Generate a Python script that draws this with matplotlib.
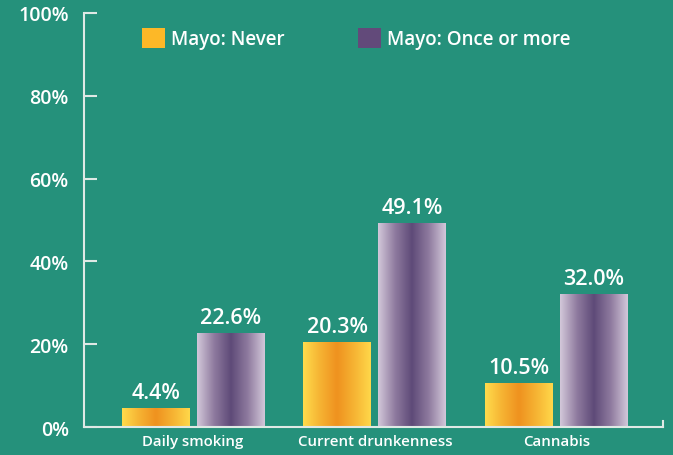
import matplotlib
matplotlib.use("Agg")
import matplotlib.pyplot as plt
import numpy as np
from matplotlib.colors import LinearSegmentedColormap
from matplotlib.patches import Patch

# Data
categories = ["Daily smoking", "Current drunkenness", "Cannabis"]
never = [4.4, 20.3, 10.5]
once_or_more = [22.6, 49.1, 32.0]
series_labels = ["Mayo: Never", "Mayo: Once or more"]
y_ticks = [0, 20, 40, 60, 80, 100]

# Styling
bg = "#25917b"
fg = "#ffffff"
axis_color = "#dfe9e5"
yellow_solid = "#fdb827"
purple_solid = "#624a7a"
yellow_cmap = LinearSegmentedColormap.from_list(
    "yel", ["#ffdc4c", "#f6b333", "#ef921f", "#f6b333", "#ffd84a"])
purple_cmap = LinearSegmentedColormap.from_list(
    "pur", ["#d3c8da", "#8f7b9f", "#5e4a78", "#8f7b9f", "#d3c8da"])

plt.rcParams["font.family"] = ["Open Sans", "DejaVu Sans"]

fig = plt.figure(figsize=(6.73, 4.56), dpi=100)
fig.patch.set_facecolor(bg)
ax = fig.add_axes([0.1248, 0.0614, 0.8603, 0.9079])
ax.set_facecolor(bg)

x = np.arange(len(categories))
width = 0.374
offset = 0.206
grad = np.linspace(0, 1, 256).reshape(1, -1)


def gradient_bars(xs, vals, cmap):
    for xc, v in zip(xs, vals):
        ax.imshow(grad, cmap=cmap, aspect="auto", interpolation="bicubic",
                  extent=[xc - width / 2, xc + width / 2, 0, v], zorder=2)
        ax.text(xc, v + 1.4, f"{v:.1f}%", ha="center", va="bottom",
                color=fg, fontsize=15.5, fontweight="semibold", zorder=3)


gradient_bars(x - offset, never, yellow_cmap)
gradient_bars(x + offset, once_or_more, purple_cmap)

ax.set_xlim(-0.6, 2.585)
ax.set_ylim(0, 100)

# Axes
ax.spines["top"].set_visible(False)
for s in ["left", "bottom", "right"]:
    ax.spines[s].set_color(axis_color)
    ax.spines[s].set_linewidth(1.5)
ax.spines["right"].set_bounds(0, 1.5)

ax.set_yticks(y_ticks)
ax.set_yticklabels([f"{t}%" for t in y_ticks])
ax.tick_params(axis="y", direction="in", length=9, width=1.5, color=axis_color,
               labelcolor=fg, labelsize=14, pad=11)
ax.set_xticks(x)
ax.set_xticklabels(categories)
ax.tick_params(axis="x", length=0, labelcolor=fg, labelsize=10.8, pad=5)
for lbl in ax.get_xticklabels() + ax.get_yticklabels():
    lbl.set_fontweight("semibold")

handles = [Patch(facecolor=yellow_solid, label=series_labels[0]),
           Patch(facecolor=purple_solid, label=series_labels[1])]
leg = ax.legend(handles=handles, ncol=2, loc="upper left",
                bbox_to_anchor=(0.071, 1.005), frameon=False,
                handlelength=1.23, handleheight=1.3, handletextpad=0.32,
                columnspacing=3.9, fontsize=13.5)
for t in leg.get_texts():
    t.set_color(fg)
    t.set_fontweight("semibold")

fig.savefig("out.png", dpi=100, facecolor=bg)
